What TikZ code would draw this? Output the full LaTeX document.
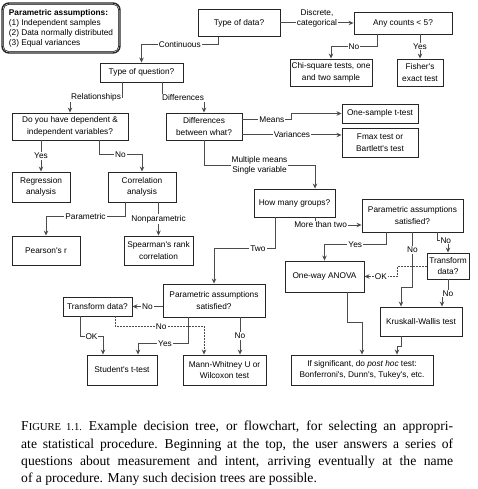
\documentclass[tikz,border=0pt]{standalone}
\usepackage{fontspec}
\setmainfont{Liberation Serif}
\newfontfamily\diagfont{Liberation Sans}
\usetikzlibrary{arrows.meta}
\newcommand\figsc[1]{{\fontsize{10.6}{10}\selectfont #1}}

\begin{document}
\begin{tikzpicture}[x=1pt, y=-1pt, > = {Stealth[length=5pt, width=4.5pt]},
    box/.style = {draw=black!85, line width=0.9pt, fill=white, align=center, inner sep=1pt,
                  font=\diagfont\fontsize{8.3}{11.5}\selectfont},
    lab/.style = {fill=white, inner sep=1pt, font=\diagfont\fontsize{8.3}{10}\selectfont},
    link/.style = {draw=black!70, line width=1pt, ->},
    dlink/.style = {link, dash pattern=on 1.6pt off 1.4pt}]
    \useasboundingbox (0,0) rectangle (478,489);

    % assumptions legend
    \node[draw=black!85, line width=1.4pt, rounded corners=7pt, minimum width=118pt, minimum height=50pt,
          align=left, inner sep=0pt, font=\diagfont\fontsize{8.3}{10}\selectfont] (legend) at (61,28)
        {\textbf{Parametric assumptions:}\\(1) Independent samples\\(2) Data normally distributed\\(3) Equal variances};
    \draw[line width=0.5pt, rounded corners=5pt] ([shift={(2.2pt,-2.2pt)}]legend.north west)
        rectangle ([shift={(-2.2pt,2.2pt)}]legend.south east);

    % top of the tree
    \node[box, minimum width=82pt, minimum height=27pt] (data) at (239,23) {Type of data?};
    \node[box, minimum width=98pt, minimum height=22pt] (counts) at (403,23) {Any counts {<} 5?};
    \node[box, minimum width=82pt, minimum height=27pt] (chi) at (331,72.5) {Chi-square tests, one\\and two sample};
    \node[box, minimum width=46pt, minimum height=27pt] (fisher) at (420,72.5) {Fisher's\\exact test};
    \node[box, minimum width=83pt, minimum height=19pt] (question) at (141.5,72.5) {Type of question?};

    \draw[link] (data.east) -- node[lab, align=center, yshift=5pt] {Discrete,\\categorical} (counts.west);
    \draw[link] ([xshift=-21pt]data.south) |- node[lab, pos=.75] {Continuous}
        ([yshift=18pt]question.north) -- (question.north);
    \draw[link] ([xshift=-26pt]counts.south) |- node[lab, pos=.75] {No}
        ([yshift=12pt]chi.north) -- (chi.north);
    \draw[link] (fisher.north |- counts.south) -- node[lab] {Yes} (fisher.north);

    % relationships
    \node[box, minimum width=116pt, minimum height=27pt] (depend) at (70,126.5) {Do you have dependent \&\\independent variables?};
    \node[box, minimum width=58pt, minimum height=30pt] (regr) at (41,187) {Regression\\analysis};
    \node[box, minimum width=68pt, minimum height=30pt] (corr) at (142,187) {Correlation\\analysis};
    \node[box, minimum width=68pt, minimum height=29pt] (pearson) at (46,250.5) {Pearson's r};
    \node[box, minimum width=69pt, minimum height=29pt] (spearman) at (158.5,250.5) {Spearman's rank\\correlation};

    \draw[link] ([xshift=-19.5pt]question.south) |- node[lab, pos=.75] {Relationships}
        ([yshift=15pt]depend.north) -- (depend.north);
    \draw[link] (regr.north |- depend.south) -- node[lab] {Yes} (regr.north);
    \draw[link] ([xshift=29pt]depend.south) |- node[lab, pos=.75] {No}
        ([yshift=17pt]corr.north) -- (corr.north);
    \draw[link] ([xshift=-17pt]corr.south) |- node[lab, pos=.75] {Parametric}
        ([yshift=19pt]pearson.north) -- (pearson.north);
    \draw[link] (spearman.north |- corr.south) -- node[lab] {Nonparametric} (spearman.north);

    % differences
    \node[box, minimum width=76pt, minimum height=27pt] (diff) at (204,126.5) {Differences\\between what?};
    \node[box, minimum width=76pt, minimum height=19pt] (onesample) at (380,113.5) {One-sample t-test};
    \node[box, minimum width=76pt, minimum height=29pt] (fmax) at (380,142.5) {Fmax test or\\Bartlett's test};
    \node[box, minimum width=81pt, minimum height=28pt] (groups) at (294.5,203) {How many groups?};

    \draw[link] ([xshift=20.5pt]question.south) |- node[lab, pos=.75] {Differences}
        ([yshift=15pt]diff.north) -- (diff.north);
    \draw[link] ([yshift=6.5pt]diff.east) -| node[lab, pos=.3] {Means}
        ([xshift=-50pt]onesample.west) -- (onesample.west);
    \draw[link] ([yshift=-8.5pt]diff.east) -- node[lab] {Variances} ([yshift=7.5pt]fmax.west);
    \draw[link] (diff.south) |- node[lab, pos=.75, align=center] {Multiple means\\Single variable}
        ([xshift=20.5pt, yshift=23pt]groups.north) -- ([xshift=20.5pt]groups.north);

    % more than two groups
    \node[box, minimum width=101pt, minimum height=33pt] (paramR) at (412.5,215.5) {Parametric assumptions\\satisfied?};
    \node[box, minimum width=79pt, minimum height=31pt] (anova) at (324.5,276.5) {One-way ANOVA};
    \node[box, minimum width=42pt, minimum height=26pt] (transR) at (448,266) {Transform\\data?};
    \node[box, minimum width=82pt, minimum height=29pt] (kruskal) at (421,321.5) {Kruskall-Wallis test};
    \node[box, minimum width=142pt, minimum height=30pt] (posthoc) at (362,370)
        {If significant, do \textit{post hoc} test:\\Bonferroni's, Dunn's, Tukey's, etc.};

    \draw[link] ([xshift=20.5pt]groups.south) |- node[lab, pos=.56] {More than two} ([yshift=-9.5pt]paramR.west);
    \draw[link] ([xshift=-26.5pt]paramR.south) |- node[lab, pos=.75] {Yes}
        ([yshift=16pt]anova.north) -- (anova.north);
    \draw[link] (paramR.south) |- node[lab, pos=.16] {No}
        ([xshift=-20pt, yshift=19pt]kruskal.north) -- ([xshift=-20pt]kruskal.north);
    \draw[link] ([xshift=24.5pt]paramR.south) |- node[lab, pos=.9] {No}
        ([yshift=12pt]transR.north) -- (transR.north);
    \draw[dlink] (transR.west) -| ([xshift=33pt]anova.east) -- node[lab] {OK} (anova.east);
    \draw[link] (transR.south) |- node[lab, pos=.5] {No}
        ([xshift=21pt, yshift=13pt]kruskal.north) -- ([xshift=21pt]kruskal.north);
    \draw[link] ([xshift=22.5pt]anova.south) |- ([yshift=32pt]posthoc.north) -- (posthoc.north);
    \draw[link] ([xshift=-20pt]kruskal.south) |- ([xshift=35pt, yshift=8pt]posthoc.north)
        -- ([xshift=35pt]posthoc.north);

    % two groups
    \node[box, minimum width=102pt, minimum height=33pt] (paramL) at (214,300.5) {Parametric assumptions\\satisfied?};
    \node[box, minimum width=69pt, minimum height=19pt] (transL) at (97.5,306.5) {Transform data?};
    \node[box, minimum width=70pt, minimum height=30pt] (student) at (122,370) {Student's t-test};
    \node[box, minimum width=83pt, minimum height=30pt] (mann) at (224.5,370) {Mann-Whitney U or\\Wilcoxon test};

    \draw[link] ([xshift=-19.5pt]groups.south) |- node[lab, pos=.64] {Two}
        ([yshift=35pt]paramL.north) -- (paramL.north);
    \draw[link] (paramL.west |- transL.east) -- node[lab] {No} (transL.east);
    \draw[link] ([xshift=-17.5pt]transL.south) |- node[lab, pos=.75] {OK}
        ([xshift=-19pt, yshift=18pt]student.north) -- ([xshift=-19pt]student.north);
    \draw[dlink] ([xshift=17.5pt]transL.south) |- node[lab, pos=.76] {No}
        ([xshift=-20.5pt, yshift=28pt]mann.north) -- ([xshift=-20.5pt]mann.north);
    \draw[link] ([xshift=-26pt]paramL.south) |- node[lab, pos=.73] {Yes}
        ([xshift=16pt, yshift=11pt]student.north) -- ([xshift=16pt]student.north);
    \draw[link] ([xshift=26pt]paramL.south) -- node[lab] {No} ([xshift=15.5pt]mann.north);

    % caption
    \node[anchor=north west, inner sep=0pt, align=left, font=\fontsize{13.6}{17.3}\selectfont] (caption) at (21,421)
        {\makebox[432pt][s]{F\figsc{IGURE 1.1.}\enspace Example decision tree, or flowchart, for selecting an appropri-}\\
         \makebox[432pt][s]{ate statistical procedure.\enspace Beginning at the top, the user answers a series of}\\
         \makebox[432pt][s]{questions about measurement and intent, arriving eventually at the name}\\
         of a procedure. Many such decision trees are possible.};
\end{tikzpicture}
\end{document}
